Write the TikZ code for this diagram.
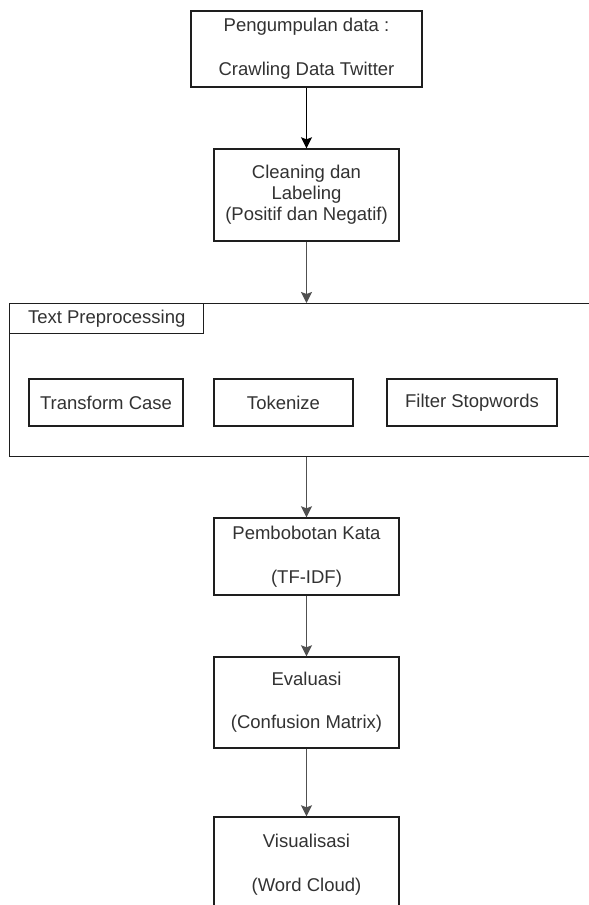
\documentclass[tikz,border=0pt]{standalone}
\usepackage{fontspec}
\setmainfont{Liberation Sans}
\usetikzlibrary{arrows.meta}
\definecolor{txt}{RGB}{50,50,50}
\definecolor{edge}{RGB}{30,30,30}
\definecolor{arrg}{RGB}{80,80,80}
\begin{document}
\begin{tikzpicture}[x=1pt,y=-1pt,
  box/.style={draw=edge,line width=1.4pt,inner sep=0pt,align=center,text=txt,
    font=\fontsize{18.5}{21}\selectfont},
  arr/.style={-{Stealth[length=11pt,width=11pt,inset=2pt]},line width=1.4pt}]
\useasboundingbox (0,0) rectangle (589,905);
\clip (0,0) rectangle (589,905);
\fill[white] (0,0) rectangle (589,905);

\node[box,minimum width=231pt,minimum height=76pt] (b1) at (306.5,49)
  {Pengumpulan data :\\[23pt]Crawling Data Twitter};
\node[box,minimum width=185pt,minimum height=92pt] (b2) at (306.5,195)
  {Cleaning dan\\Labeling\\(Positif dan Negatif)};

\node[box,minimum width=591pt,minimum height=153pt,anchor=north west] (tp) at (9,303) {};
\node[box,minimum width=194pt,minimum height=30pt,anchor=north west] (tab) at (9,303)
  {Text Preprocessing};
\node[box,minimum width=154pt,minimum height=47pt] (tc) at (106,402.5) {Transform Case};
\node[box,minimum width=139pt,minimum height=47pt] (tk) at (283.5,402.5) {Tokenize};
\node[box,minimum width=170pt,minimum height=47pt] (fs) at (472,402.5) {Filter Stopwords};

\node[box,minimum width=185pt,minimum height=77pt] (pb) at (306.5,556.5)
  {Pembobotan Kata\\[23pt](TF-IDF)};
\node[box,minimum width=185pt,minimum height=91pt] (ev) at (306.5,702.5)
  {Evaluasi\\[22pt](Confusion Matrix)};
\node[box,minimum width=185pt,minimum height=95pt] (vi) at (306.5,864.5)
  {Visualisasi\\[23pt](Word Cloud)};

\draw[arr,black] (b1.south) -- (b2.north);
\draw[arr,arrg] (b2.south) -- (b2.south |- tp.north);
\draw[arr,arrg] (pb.north |- tp.south) -- (pb.north);
\draw[arr,arrg] (pb.south) -- (ev.north);
\draw[arr,arrg] (ev.south) -- (vi.north);
\end{tikzpicture}
\end{document}
